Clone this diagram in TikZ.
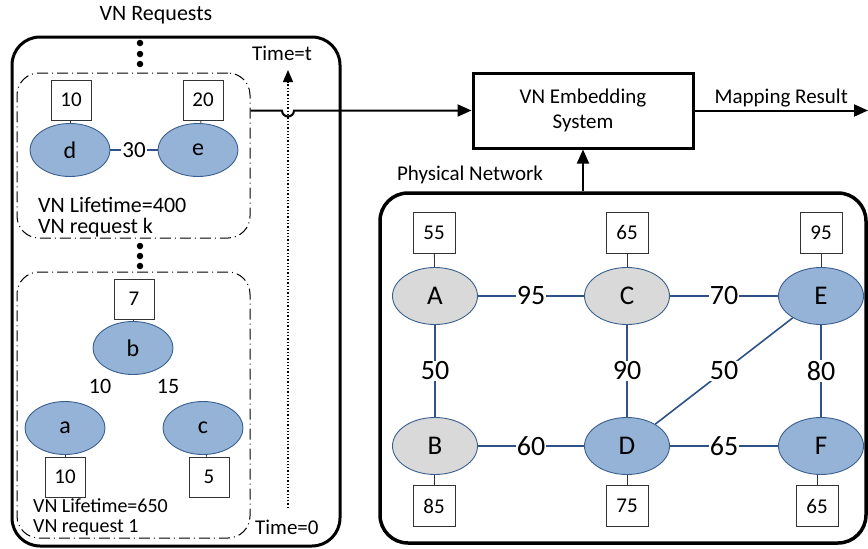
\documentclass[tikz,border=0pt]{standalone}
\usepackage{fontspec}
\setmainfont{Carlito}
\usetikzlibrary{arrows.meta,shapes.geometric}
\definecolor{nblue}{HTML}{95B3D7}
\definecolor{nborder}{HTML}{3A5F8F}
\definecolor{ngray}{HTML}{D9D9D9}
\definecolor{eblue}{HTML}{2F5189}
\tikzset{
  vnode/.style={ellipse, draw=nborder, fill=nblue, line width=0.9pt, minimum width=80pt, minimum height=53pt, inner sep=0pt, font=\fontsize{24}{24}\selectfont},
  pnode/.style={ellipse, draw=nborder, line width=0.9pt, minimum width=85pt, minimum height=57pt, inner sep=0pt, font=\fontsize{27}{27}\selectfont},
  capbox/.style={draw=black!80, fill=white, line width=0.8pt, minimum width=40pt, minimum height=40pt, inner sep=0pt, font=\fontsize{21}{21}\selectfont},
  capline/.style={draw=black!80, line width=0.8pt},
  vedge/.style={draw=eblue, line width=1.2pt},
  pedge/.style={draw=eblue, line width=1.6pt},
  elab/.style={fill=white, inner sep=1pt, font=\fontsize{28}{28}\selectfont},
  vlab/.style={fill=white, inner sep=1pt, font=\fontsize{23}{23}\selectfont},
  reqbox/.style={draw, line width=1pt, rounded corners=22pt, dash pattern=on 11pt off 4pt on 1pt off 4pt},
  bigbox/.style={draw, line width=3pt, rounded corners=28pt},
  txt/.style={inner sep=0pt, font=\fontsize{21}{21}\selectfont},
  arr/.style={line width=2pt, -{Triangle[length=14pt,width=12pt]}},
  dot/.style={circle, fill=black, inner sep=0pt, minimum size=6.5pt}
}
\begin{document}
\begin{tikzpicture}[x=1pt,y=-1pt]
\useasboundingbox (0,0) rectangle (868,549);
% left outer box
\node[bigbox, minimum width=328pt, minimum height=509pt] (left) at (176,291.5) {};
\node[txt, font=\fontsize{22}{22}\selectfont] (vnreq) at (156,15) {VN Requests};
% request k
\node[reqbox, minimum width=233pt, minimum height=165pt] (reqk) at (133.5,155.5) {};
\node[dot] (d1) at (140,43) {};
\node[dot] (d2) at (140,54) {};
\node[dot] (d3) at (140,64) {};
\node[vnode] (d) at (70,150) {d};
\node[vnode] (e) at (198,150) {e};
\node[capbox] (cd) at (71,100) {10};
\node[capbox] (ce) at (203,100) {20};
\draw[capline] (cd) -- (d);
\draw[capline] (ce) -- (e);
\draw[vedge] (d) -- node[vlab]{30} (e);
\node[txt, anchor=west, font=\fontsize{22}{22}\selectfont] (lt400) at (38,205) {VN Lifetime=400};
\node[txt, anchor=west, font=\fontsize{22}{22}\selectfont] (rk) at (38,228) {VN request k};
% request 1
\node[dot] (d4) at (140,246) {};
\node[dot] (d5) at (140,256) {};
\node[dot] (d6) at (140,266) {};
\node[reqbox, minimum width=233pt, minimum height=266pt] (req1) at (133.5,405) {};
\node[vnode] (b) at (133,348) {b};
\node[vnode] (a) at (65,428) {a};
\node[vnode] (c) at (203,428) {c};
\node[capbox] (cb) at (134,299) {7};
\node[capbox] (ca) at (65,477) {10};
\node[capbox] (cc) at (209,477) {5};
\draw[capline] (cb) -- (b);
\draw[capline] (ca) -- (a);
\draw[capline] (cc) -- (c);
\node[txt, font=\fontsize{22}{22}\selectfont] (l10) at (100,386) {10};
\node[txt, font=\fontsize{22}{22}\selectfont] (l15) at (168,386) {15};
\node[txt, anchor=west, font=\fontsize{20}{20}\selectfont] (lt650) at (33,506) {VN Lifetime=650};
\node[txt, anchor=west, font=\fontsize{20}{20}\selectfont] (r1) at (33,528) {VN request 1};
% time axis
\coordinate (t0) at (288,508);
\coordinate (t1) at (288,70);
\draw[line width=1.3pt, dotted, -{Triangle[length=12pt,width=10pt]}] (t0) -- (t1);
\node[txt, anchor=west] (tt) at (252,53) {Time=t};
\node[txt, anchor=west] (tz) at (255,527) {Time=0};
% embedding system
\node[draw, line width=3pt, minimum width=220pt, minimum height=75pt, align=center, font=\fontsize{21}{25}\selectfont] (emb) at (583,110.5) {VN Embedding\\System};
\draw[arr] (reqk.east |- emb.west) -- (282,110.5) arc(180:0:6) -- (emb.west);
\coordinate (mr) at (868,110.5);
\draw[arr] (emb.east) -- node[above=2pt, txt]{Mapping Result} (mr);
% physical network
\node[bigbox, line width=3.5pt, minimum width=486pt, minimum height=350pt] (phys) at (623,368) {};
\node[txt, font=\fontsize{21}{21}\selectfont] (pn) at (470,175) {Physical Network};
\draw[arr] (phys.north -| emb.south) -- (emb.south);
\node[pnode, fill=ngray] (A) at (435,296) {A};
\node[pnode, fill=ngray] (C) at (627,296) {C};
\node[pnode, fill=nblue] (E) at (821,296) {E};
\node[pnode, fill=ngray] (B) at (435,446) {B};
\node[pnode, fill=nblue] (D) at (627,446) {D};
\node[pnode, fill=nblue] (F) at (821,446) {F};
\node[capbox, minimum width=42pt, minimum height=41pt] (cA) at (434,232.5) {55};
\node[capbox, minimum width=42pt, minimum height=41pt] (cC) at (627,232.5) {65};
\node[capbox, minimum width=42pt, minimum height=41pt] (cE) at (821,232.5) {95};
\node[capbox, minimum width=42pt, minimum height=41pt] (cB) at (434,506) {85};
\node[capbox, minimum width=42pt, minimum height=41pt] (cD) at (627,506) {75};
\node[capbox, minimum width=42pt, minimum height=41pt] (cF) at (817,506) {65};
\draw[capline] (cA) -- (A);
\draw[capline] (cC) -- (C);
\draw[capline] (cE) -- (E);
\draw[capline] (cB) -- (B);
\draw[capline] (cD) -- (D);
\draw[capline] (cF) -- (cF |- F.south);
\draw[pedge] (A) -- node[elab]{95} (C);
\draw[pedge] (C) -- node[elab]{70} (E);
\draw[pedge] (A) -- node[elab]{50} (B);
\draw[pedge] (C) -- node[elab]{90} (D);
\draw[pedge] (E) -- node[elab, pos=0.5]{50} (D);
\draw[pedge] (E) -- node[elab]{80} (F);
\draw[pedge] (B) -- node[elab]{60} (D);
\draw[pedge] (D) -- node[elab]{65} (F);
\end{tikzpicture}
\end{document}
